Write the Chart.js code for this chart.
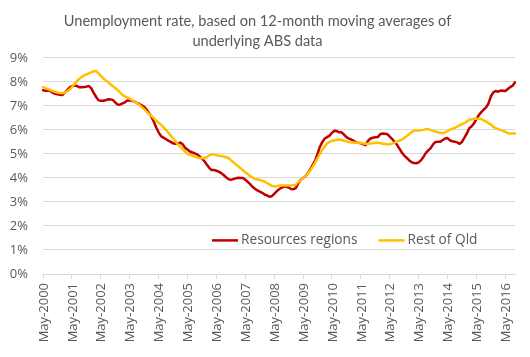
<!DOCTYPE html>
<html>
<head>
<meta charset="utf-8">
<script src="https://cdn.jsdelivr.net/npm/chart.js@4.4.1/dist/chart.umd.min.js"></script>
<style>
  html, body { margin: 0; padding: 0; background: #ffffff; }
  #wrap { width: 530px; height: 357px; position: relative; }
</style>
</head>
<body>
<div id="wrap"><canvas id="c" width="530" height="357"></canvas></div>
<script>
// ---- Data (monthly, May-2000 .. Sep-2016) ----
const monthNames = ['Jan','Feb','Mar','Apr','May','Jun','Jul','Aug','Sep','Oct','Nov','Dec'];
const categories = [];
for (let i = 0; i < 197; i++) {
  const k = 4 + i;
  categories.push(monthNames[k % 12] + '-' + (2000 + Math.floor(k / 12)));
}

const tickLabels = ['May-2000','May-2001','May-2002','May-2003','May-2004','May-2005','May-2006','May-2007',
  'May-2008','May-2009','May-2010','May-2011','May-2012','May-2013','May-2014','May-2015','May-2016'];

const resourcesRegions = [
  7.65,7.63,7.64,7.62,7.55,7.50,7.48,7.46,7.45,7.55,7.65,7.76,
  7.82,7.85,7.83,7.78,7.78,7.79,7.80,7.83,7.74,7.55,7.38,7.24,
  7.21,7.21,7.23,7.28,7.27,7.25,7.14,7.06,7.05,7.10,7.15,7.22,
  7.22,7.21,7.18,7.12,7.08,7.02,6.96,6.85,6.70,6.55,6.35,6.10,
  5.90,5.74,5.68,5.62,5.55,5.50,5.44,5.42,5.43,5.47,5.40,5.26,
  5.18,5.10,5.06,5.02,4.98,4.90,4.80,4.70,4.56,4.42,4.33,4.33,
  4.30,4.26,4.20,4.12,4.03,3.95,3.92,3.95,3.98,4.01,4.00,4.00,
  3.92,3.84,3.74,3.63,3.55,3.48,3.43,3.38,3.31,3.27,3.22,3.24,
  3.33,3.44,3.53,3.59,3.64,3.63,3.60,3.54,3.53,3.58,3.78,3.92,
  3.99,4.08,4.20,4.36,4.54,4.72,5.00,5.30,5.50,5.64,5.70,5.76,
  5.88,5.96,5.95,5.90,5.90,5.80,5.70,5.64,5.60,5.55,5.48,5.46,
  5.44,5.40,5.37,5.55,5.64,5.67,5.69,5.70,5.82,5.85,5.84,5.82,
  5.72,5.62,5.50,5.38,5.22,5.06,4.93,4.84,4.74,4.66,4.62,4.61,
  4.65,4.74,4.88,5.04,5.15,5.24,5.40,5.50,5.51,5.51,5.58,5.64,
  5.66,5.56,5.53,5.51,5.48,5.42,5.50,5.68,5.85,6.07,6.15,6.28,
  6.45,6.62,6.74,6.84,6.94,7.10,7.40,7.56,7.62,7.59,7.64,7.63,
  7.62,7.70,7.78,7.84,7.98
];

const restOfQld = [
  7.78,7.74,7.70,7.66,7.62,7.58,7.56,7.54,7.53,7.55,7.60,7.68,
  7.78,7.90,8.02,8.12,8.20,8.26,8.31,8.35,8.40,8.44,8.45,8.36,
  8.25,8.15,8.06,7.99,7.90,7.82,7.74,7.66,7.56,7.46,7.40,7.35,
  7.30,7.24,7.18,7.12,7.04,6.95,6.86,6.76,6.66,6.58,6.49,6.38,
  6.30,6.21,6.12,6.00,5.88,5.76,5.65,5.52,5.40,5.30,5.20,5.10,
  5.00,4.96,4.93,4.89,4.85,4.83,4.82,4.83,4.86,4.94,4.97,4.98,
  4.95,4.92,4.91,4.89,4.86,4.83,4.74,4.66,4.57,4.49,4.40,4.32,
  4.24,4.16,4.08,4.01,3.96,3.93,3.92,3.88,3.85,3.79,3.73,3.67,
  3.64,3.65,3.68,3.68,3.68,3.68,3.68,3.69,3.70,3.72,3.83,3.92,
  3.99,4.08,4.19,4.32,4.47,4.64,4.82,5.00,5.17,5.32,5.44,5.50,
  5.54,5.57,5.59,5.60,5.58,5.55,5.52,5.49,5.47,5.47,5.47,5.46,
  5.45,5.43,5.42,5.42,5.43,5.44,5.46,5.47,5.45,5.42,5.41,5.40,
  5.40,5.43,5.47,5.51,5.55,5.60,5.66,5.74,5.82,5.90,5.97,5.98,
  5.97,5.98,6.00,6.03,6.04,5.99,5.96,5.93,5.90,5.88,5.86,5.90,
  5.95,6.01,6.05,6.08,6.14,6.19,6.24,6.28,6.35,6.42,6.44,6.46,
  6.46,6.46,6.45,6.40,6.35,6.28,6.22,6.13,6.07,6.03,5.99,5.96,
  5.92,5.86,5.85,5.85,5.85
];

const seriesNames = ['Resources regions', 'Rest of Qld'];
const titleLines = ['Unemployment rate, based on 12-month moving averages of', 'underlying ABS data'];

// ---- Styling ----
const TEXT = '#595959';
const GRID = '#d9d9d9';
const FONT = '"Open Sans", "Liberation Sans", sans-serif';
const TITLE_FONT = 'Lato, "Open Sans", sans-serif';

const insideLegend = {
  id: 'insideLegend',
  afterDatasetsDraw(chart) {
    const { ctx, chartArea } = chart;
    const y = chartArea.bottom - 33.6;
    let x = chartArea.left + 169;
    ctx.save();
    ctx.font = '13.7px ' + FONT;
    ctx.textBaseline = 'middle';
    ctx.textAlign = 'left';
    chart.data.datasets.forEach(ds => {
      ctx.strokeStyle = ds.borderColor;
      ctx.lineWidth = 2.5;
      ctx.beginPath();
      ctx.moveTo(x, y);
      ctx.lineTo(x + 26, y);
      ctx.stroke();
      ctx.fillStyle = TEXT;
      ctx.fillText(ds.label, x + 29, y);
      x += 29 + ctx.measureText(ds.label).width + 21;
    });
    ctx.restore();
  }
};

new Chart(document.getElementById('c'), {
  type: 'line',
  data: {
    labels: categories,
    datasets: [
      { label: seriesNames[0], data: resourcesRegions, borderColor: '#C00000', borderWidth: 2.5,
        pointRadius: 0, tension: 0, order: 1, borderJoinStyle: 'round', borderCapStyle: 'round' },
      { label: seriesNames[1], data: restOfQld, borderColor: '#FFC000', borderWidth: 2.5,
        pointRadius: 0, tension: 0, order: 0, borderJoinStyle: 'round', borderCapStyle: 'round' }
    ]
  },
  options: {
    responsive: false,
    animation: false,
    devicePixelRatio: 1,
    layout: { padding: { left: 0, right: 15, top: 0, bottom: 0 } },
    plugins: {
      legend: { display: false },
      tooltip: { enabled: false },
      title: {
        display: true,
        text: titleLines,
        color: TEXT,
        font: { family: TITLE_FONT, size: 14.6, weight: 'normal', lineHeight: 1.33 },
        padding: { top: 12, bottom: 7 }
      }
    },
    scales: {
      x: {
        type: 'category',
        offset: false,
        grid: { drawOnChartArea: false, drawTicks: true, tickLength: 5, color: GRID },
        border: { display: true, color: GRID, width: 1 },
        afterBuildTicks: (scale) => {
          scale.ticks = scale.ticks.filter(t => tickLabels.includes(categories[t.value]));
        },
        afterFit: (scale) => { scale.height = 83; },
        ticks: {
          autoSkip: false,
          maxRotation: 90,
          minRotation: 90,
          padding: 4,
          labelOffset: 1,
          color: TEXT,
          font: { family: FONT, size: 13 }
        }
      },
      y: {
        min: 0,
        max: 9,
        grid: { color: GRID, drawTicks: false },
        border: { display: false },
        afterFit: (scale) => { scale.width = 43; },
        ticks: {
          stepSize: 1,
          padding: 15,
          color: TEXT,
          font: { family: FONT, size: 13 },
          callback: (v) => v + '%'
        }
      }
    }
  },
  plugins: [insideLegend]
});
</script>
</body>
</html>
